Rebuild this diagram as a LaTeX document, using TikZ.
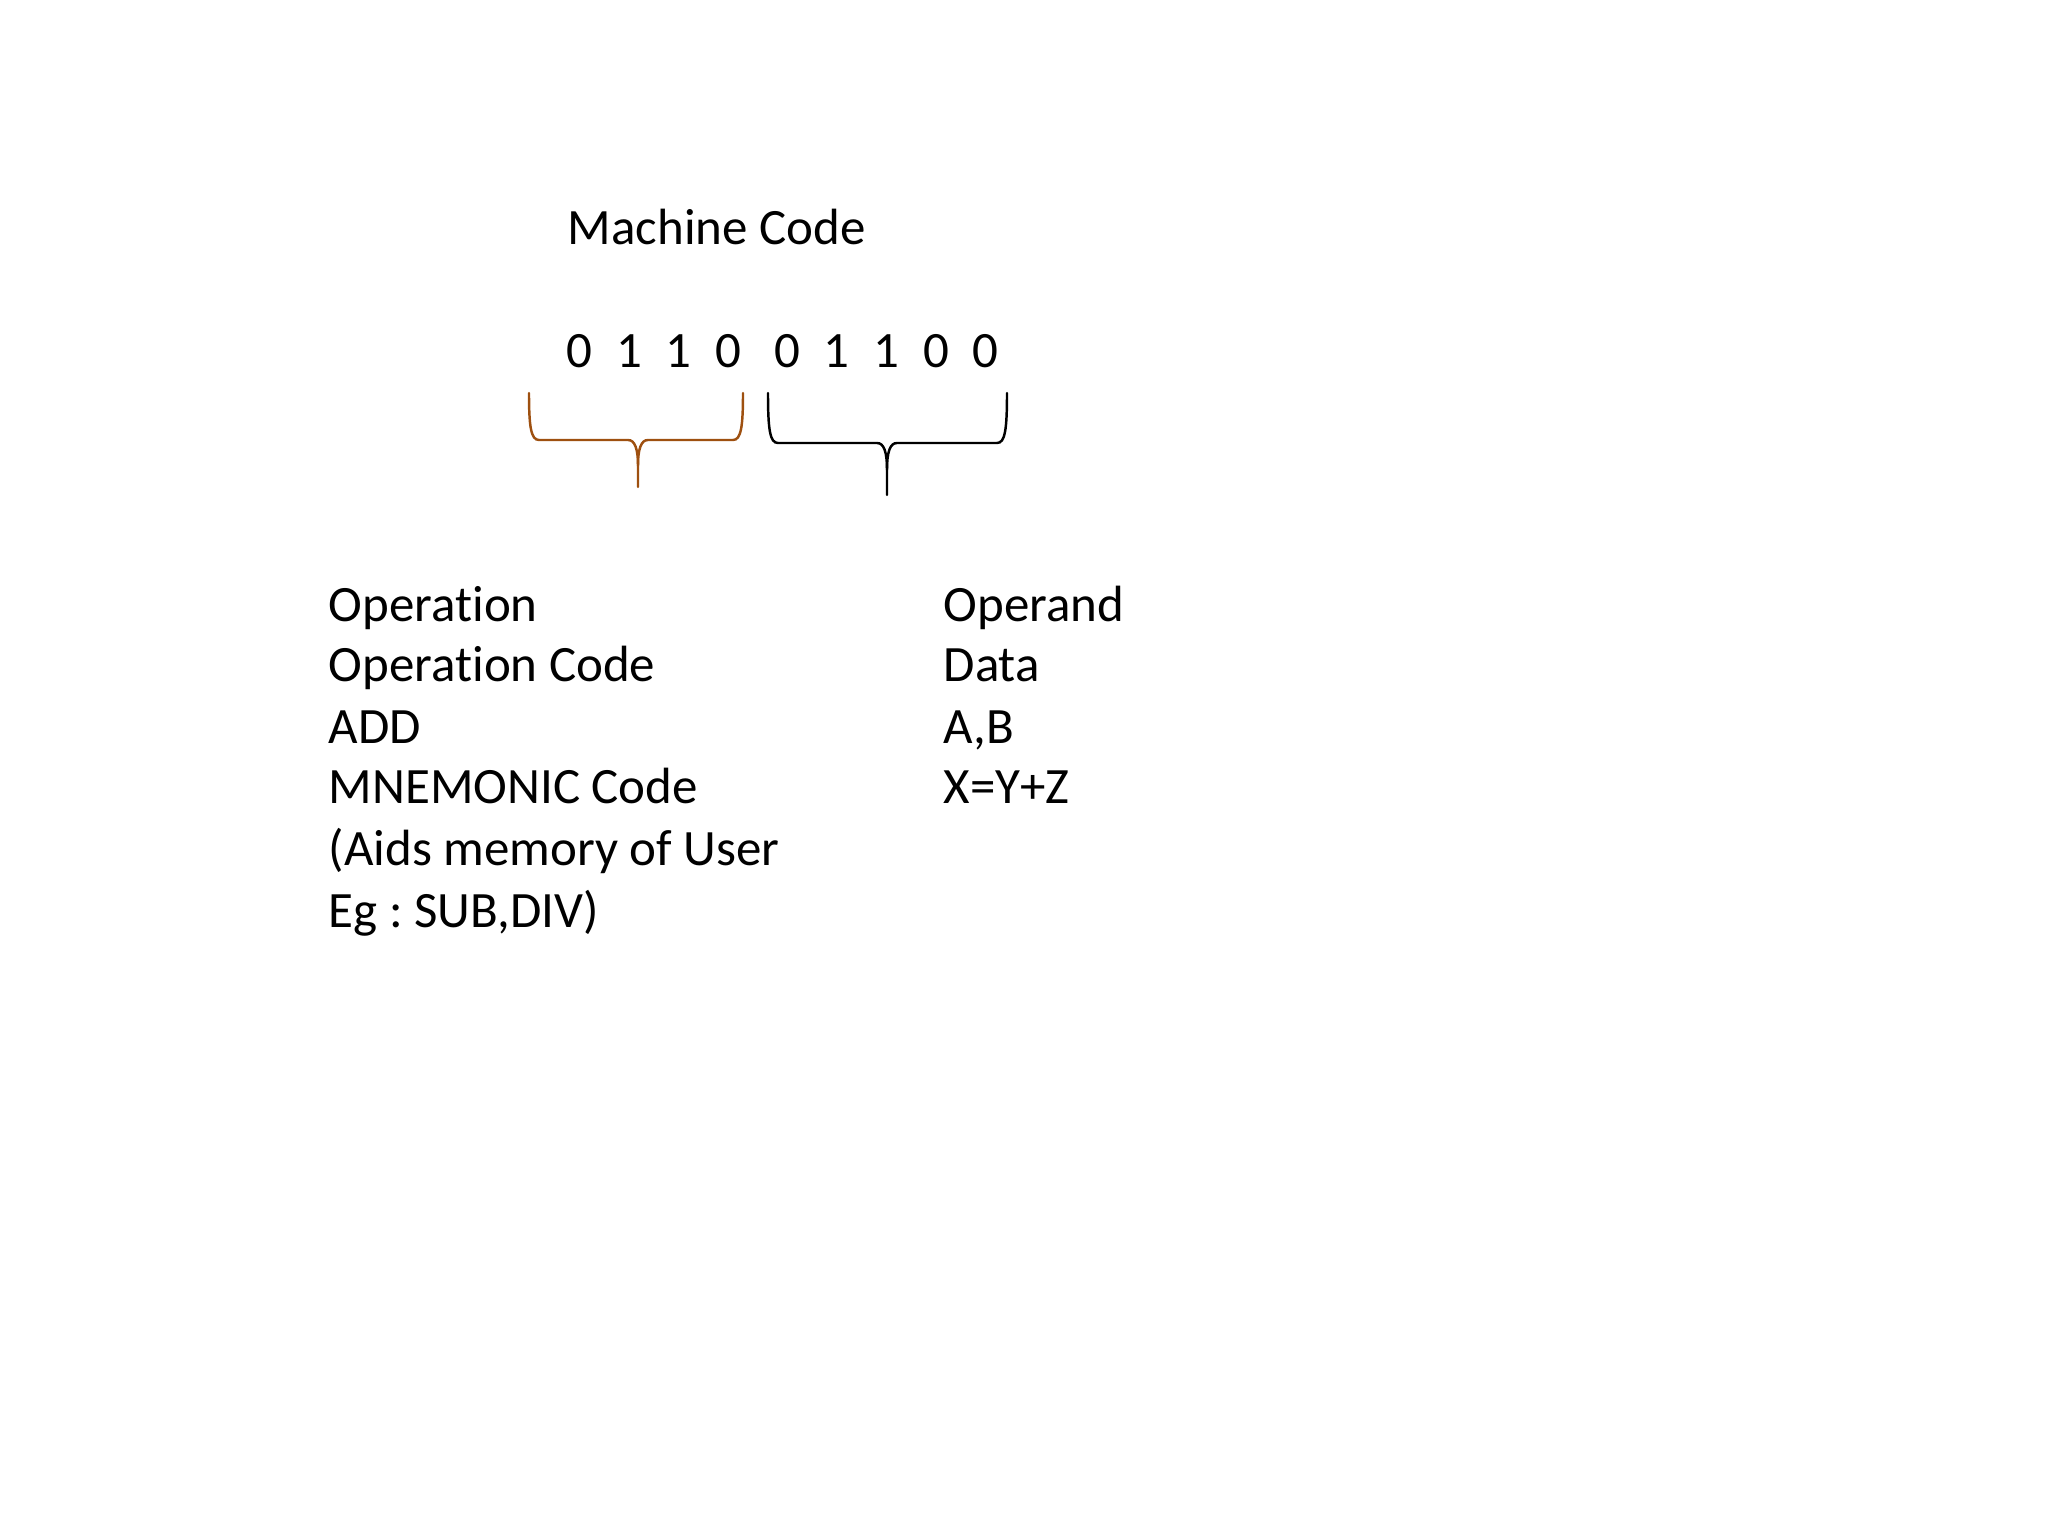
\documentclass[tikz,border=0pt]{standalone}
\usepackage{fontspec}
\setmainfont{Carlito}[Ligatures=NoCommon]
\usepackage{tikz}
\frenchspacing
\definecolor{bracebrown}{RGB}{158,80,16}
\newcommand{\bitbox}[1]{\makebox[0.497cm]{#1}}
\tikzset{txt/.style={anchor=base west,inner sep=0pt,font=\fontsize{14.5}{17}\selectfont},
  bracepath/.style={line width=0.7pt,line cap=round}}

\begin{document}
\begin{tikzpicture}
\useasboundingbox (0,0) rectangle (20.48,-15.36);
\draw (5.67,-2.45) node[txt] (title) {Machine Code};
\draw (6.54,-3.68) node[txt,anchor=base] (opbits) {\bitbox{0}\bitbox{1}\bitbox{1}\bitbox{0}};
\draw (8.865,-3.68) node[txt,anchor=base] (argbits) {\bitbox{0}\bitbox{1}\bitbox{1}\bitbox{0}\bitbox{0}};
% braces under the bits
\draw[bracepath,bracebrown] (5.29,-3.93) .. controls (5.29,-4.27) and (5.31,-4.40) .. (5.39,-4.40) -- (6.28,-4.40) .. controls (6.35,-4.40) and (6.38,-4.49) .. (6.38,-4.66) -- (6.38,-4.87);
\draw[bracepath,bracebrown] (6.38,-4.66) .. controls (6.38,-4.49) and (6.41,-4.40) .. (6.48,-4.40) -- (7.33,-4.40) .. controls (7.41,-4.40) and (7.43,-4.27) .. (7.43,-3.93);
\draw[bracepath] (7.68,-3.93) .. controls (7.68,-4.30) and (7.70,-4.43) .. (7.78,-4.43) -- (8.77,-4.43) .. controls (8.84,-4.43) and (8.87,-4.52) .. (8.87,-4.70) -- (8.87,-4.95);
\draw[bracepath] (8.87,-4.70) .. controls (8.87,-4.52) and (8.90,-4.43) .. (8.97,-4.43) -- (9.97,-4.43) .. controls (10.05,-4.43) and (10.07,-4.30) .. (10.07,-3.93);
% operation column
\draw (3.28,-6.22) node[txt] (operation) {Operation};
\draw (3.28,-6.82) node[txt] (opcode) {Operation Code};
\draw (3.28,-7.43) node[txt] (add) {ADD};
\draw (3.28,-8.03) node[txt] (mnemonic) {MNEMONIC Code};
\draw (3.28,-8.65) node[txt] (aids) {(Aids memory of User};
\draw (3.28,-9.27) node[txt] (example) {Eg : SUB,DIV)};
% operand column
\draw (9.43,-6.22) node[txt] (operand) {Operand};
\draw (9.43,-6.82) node[txt] (data) {Data};
\draw (9.43,-7.43) node[txt] (ab) {A,B};
\draw (9.43,-8.03) node[txt] (xyz) {X=Y+Z};
\end{tikzpicture}
\end{document}
